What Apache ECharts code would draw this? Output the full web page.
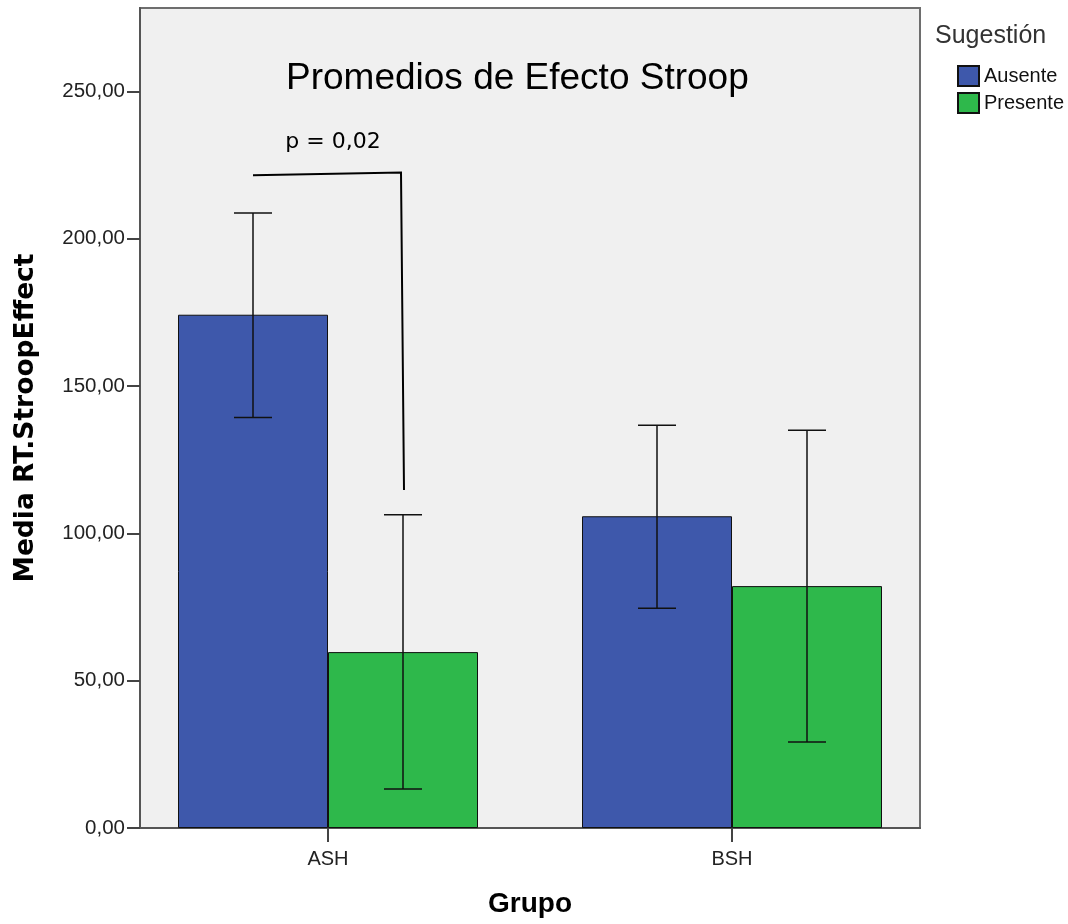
<!DOCTYPE html>
<html><head><meta charset="utf-8">
<script src="https://cdn.jsdelivr.net/npm/echarts@6/dist/echarts.min.js"></script>
<style>html,body{margin:0;padding:0;background:#fff}#c{width:1068px;height:924px}</style>
</head><body><div id="c"></div>
<script>
const categories = ['ASH', 'BSH'];
const seriesNames = ['Ausente', 'Presente'];
const ausente = [174.2, 105.8];
const presente = [59.7, 82.1];
const ausenteLow = [139.3, 74.6];
const ausenteHigh = [208.7, 136.7];
const presenteLow = [13.2, 29.2];
const presenteHigh = [106.3, 135.0];
const yTicks = [0, 50, 100, 150, 200, 250];
const yMax = 278.3;
const pLabel = 'p = 0,02';
const pLabelValue = 232.8;
const bracketValues = [221.5, 222.5, 114.7];

const BAR_W = 150;
const HALF = BAR_W / 2;
const CAP = 19;
const fmt = v => v.toFixed(2).replace('.', ',');

function errRender(offset) {
  return function (params, api) {
    const lo = api.coord([api.value(0), api.value(1)]);
    const hi = api.coord([api.value(0), api.value(2)]);
    const cx = lo[0] + offset;
    const st = { stroke: '#111', lineWidth: 1.5 };
    return {
      type: 'group', children: [
        { type: 'line', shape: { x1: cx, y1: lo[1], x2: cx, y2: hi[1] }, style: st },
        { type: 'line', shape: { x1: cx - CAP, y1: lo[1], x2: cx + CAP, y2: lo[1] }, style: st },
        { type: 'line', shape: { x1: cx - CAP, y1: hi[1], x2: cx + CAP, y2: hi[1] }, style: st }
      ]
    };
  };
}

function bracketRender(params, api) {
  const c = api.value(0);
  const p0 = api.coord([c, bracketValues[0]]);
  const p1 = api.coord([c, bracketValues[1]]);
  const p2 = api.coord([c, bracketValues[2]]);
  const pt = api.coord([c, pLabelValue]);
  return {
    type: 'group', children: [
      { type: 'polyline', shape: { points: [[p0[0] - HALF, p0[1]], [p1[0] + HALF - 2, p1[1]], [p2[0] + HALF + 1, p2[1]]] },
        style: { stroke: '#000', lineWidth: 2, fill: null } },
      { type: 'text', x: pt[0] + 5, y: pt[1],
        style: { text: pLabel, fontSize: 22, fontFamily: 'DejaVu Sans', fill: '#000', align: 'center', verticalAlign: 'middle' } }
    ]
  };
}

const chart = echarts.init(document.getElementById('c'));
chart.setOption({
  animation: false,
  backgroundColor: '#fff',
  textStyle: { fontFamily: 'Liberation Sans' },
  title: [
    { text: 'Promedios de Efecto Stroop', left: 286, top: 60, padding: 0,
      textStyle: { fontSize: 37, fontWeight: 'normal', color: '#000', fontFamily: 'Liberation Sans' } },
    { text: 'Sugestión', left: 935, top: 24, padding: 0,
      textStyle: { fontSize: 25, fontWeight: 'normal', color: '#333', fontFamily: 'Liberation Sans' } }
  ],
  legend: {
    data: seriesNames, orient: 'vertical', left: 957, top: 65, padding: 0,
    itemWidth: 21, itemHeight: 20, itemGap: 5, icon: 'rect', selectedMode: false,
    textStyle: { fontSize: 20, color: '#111', fontFamily: 'Liberation Sans' }
  },
  grid: [
    { left: 140, right: 148, top: 8, bottom: 96, show: true, backgroundColor: '#f0f0f0', borderColor: '#6e6e6e', borderWidth: 2, containLabel: false },
    { left: 126, right: 134, top: 8, bottom: 96, containLabel: false }
  ],
  xAxis: [
    { gridIndex: 0, type: 'value', min: 0, max: 1, axisLabel: { show: false }, axisTick: { show: false }, splitLine: { show: false },
      axisLine: { show: true, lineStyle: { color: '#555', width: 2 } },
      name: 'Grupo', nameLocation: 'middle', nameGap: 62,
      nameTextStyle: { fontSize: 28, fontWeight: 'bold', color: '#000', fontFamily: 'Liberation Sans' } },
    { gridIndex: 1, type: 'category', data: categories, axisLine: { show: false },
      axisTick: { show: true, alignWithLabel: true, length: 14, lineStyle: { color: '#444', width: 2 } },
      axisLabel: { margin: 21, fontSize: 20, color: '#222', fontFamily: 'Liberation Sans' } }
  ],
  yAxis: [
    { gridIndex: 0, type: 'value', min: 0, max: yMax, splitLine: { show: false },
      axisLine: { show: true, lineStyle: { color: '#555', width: 2 } },
      axisTick: { show: true, length: 13, customValues: yTicks, lineStyle: { color: '#444', width: 2 } },
      axisLabel: { customValues: yTicks, formatter: fmt, margin: 15, fontSize: 20.5, color: '#222', fontFamily: 'Liberation Sans' },
      name: 'Media RT.StroopEffect', nameLocation: 'middle', nameGap: 100,
      nameTextStyle: { fontSize: 26.5, fontWeight: 'bold', color: '#000', fontFamily: 'DejaVu Sans' } },
    { gridIndex: 1, type: 'value', min: 0, max: yMax, show: false, splitLine: { show: false } }
  ],
  series: [
    { name: 'Ausente', type: 'bar', xAxisIndex: 1, yAxisIndex: 1, data: ausente, barWidth: BAR_W, barGap: '0%',
      itemStyle: { color: '#3e58ab', borderColor: '#111', borderWidth: 1 } },
    { name: 'Presente', type: 'bar', xAxisIndex: 1, yAxisIndex: 1, data: presente, barWidth: BAR_W, barGap: '0%',
      itemStyle: { color: '#2eb84b', borderColor: '#111', borderWidth: 1 } },
    { name: 'errA', type: 'custom', xAxisIndex: 1, yAxisIndex: 1, z: 5, renderItem: errRender(-HALF),
      data: categories.map((c, i) => [i, ausenteLow[i], ausenteHigh[i]]), encode: { x: 0, y: [1, 2] } },
    { name: 'errP', type: 'custom', xAxisIndex: 1, yAxisIndex: 1, z: 5, renderItem: errRender(HALF),
      data: categories.map((c, i) => [i, presenteLow[i], presenteHigh[i]]), encode: { x: 0, y: [1, 2] } },
    { name: 'bracket', type: 'custom', xAxisIndex: 1, yAxisIndex: 1, z: 6, renderItem: bracketRender,
      data: [[0]], encode: { x: 0 } }
  ]
});
</script></body></html>
